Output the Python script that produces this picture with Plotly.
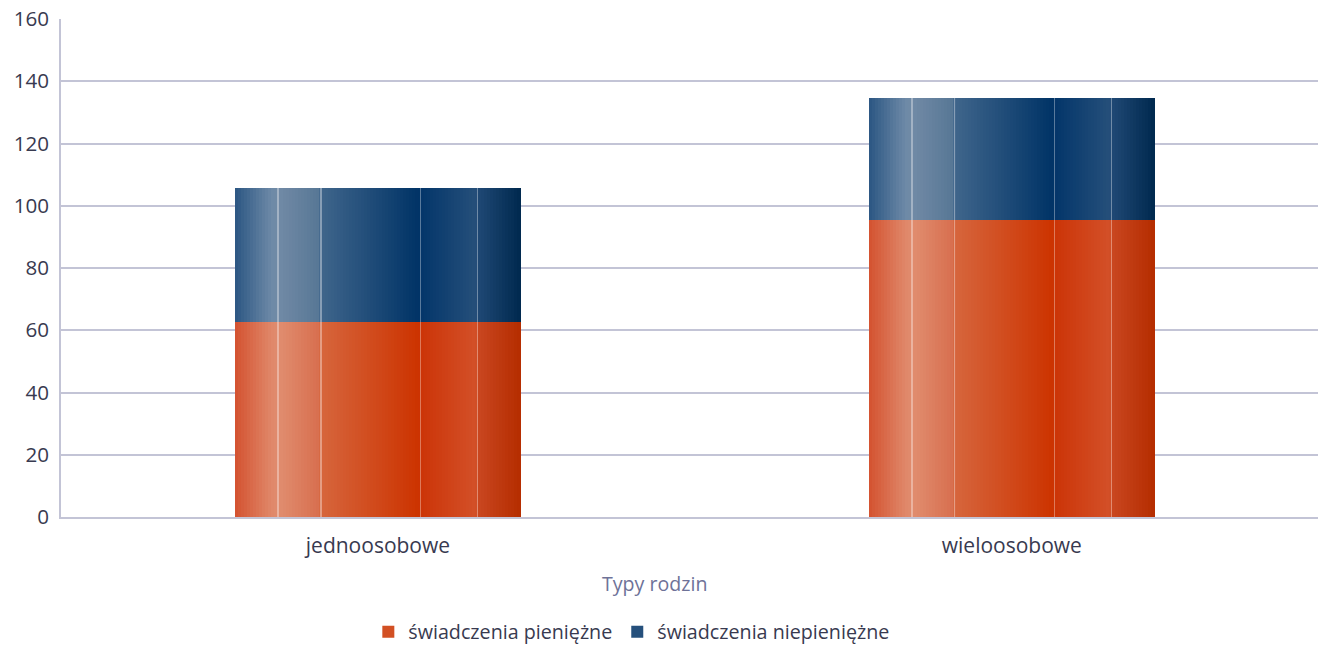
import plotly.graph_objects as go

categories = ["jednoosobowe", "wieloosobowe"]
pieniezne = [62.6, 95.4]
niepieniezne_total = [105.7, 134.7]
niepieniezne = [round(t - p, 1) for t, p in zip(niepieniezne_total, pieniezne)]
series_names = ["świadczenia pieniężne", "świadczenia niepieniężne"]
y_ticks = [0, 20, 40, 60, 80, 100, 120, 140, 160]

FONT = "Open Sans"
TXT = "#383a50"
GRID = "#c3c4d6"

orange_stops = [(0.0, "#d35230"), (0.13, "#e0886a"), (0.16, "#e08c6e"), (0.29, "#d87050"),
                (0.305, "#d6653c"), (0.645, "#cc3300"), (0.655, "#cc3508"), (0.845, "#d35028"),
                (0.855, "#c94620"), (1.0, "#b52d00")]
blue_stops = [(0.0, "#2b5683"), (0.13, "#6e8aa7"), (0.16, "#7089a5"), (0.29, "#587896"),
              (0.305, "#3f658b"), (0.645, "#003366"), (0.655, "#04366a"), (0.845, "#254f7a"),
              (0.855, "#1f4874"), (1.0, "#00294f")]


def hex2rgb(h):
    h = h.lstrip("#")
    return tuple(int(h[i:i + 2], 16) for i in (0, 2, 4))


def grad(stops, t):
    for (t0, c0), (t1, c1) in zip(stops[:-1], stops[1:]):
        if t0 <= t <= t1:
            f = 0 if t1 == t0 else (t - t0) / (t1 - t0)
            a, b = hex2rgb(c0), hex2rgb(c1)
            return "rgb(%d,%d,%d)" % tuple(round(a[i] + (b[i] - a[i]) * f) for i in range(3))
    return stops[-1][1]


W = 0.45
N = 95
step = W / N
fig = go.Figure()

for vals, base, stops, name, leg_t in [
    (pieniezne, None, orange_stops, series_names[0], 0.45),
    (niepieniezne, pieniezne, blue_stops, series_names[1], 0.45),
]:
    leg_idx = int(leg_t * N)
    for i in range(N):
        t = (i + 0.5) / N
        fig.add_trace(go.Bar(
            x=categories, y=vals, base=base,
            width=step * 1.35, offset=-W / 2 + i * step - (0.2 * step if i > 0 else 0),
            marker=dict(color=grad(stops, t), line=dict(width=0)),
            name=name, legendgroup=name, showlegend=(i == leg_idx),
            hoverinfo="skip",
        ))
    for lt in [0.15, 0.30, 0.65, 0.85]:
        fig.add_trace(go.Bar(
            x=categories, y=vals, base=base,
            width=0.0022, offset=-W / 2 + lt * W - 0.0011,
            marker=dict(color="rgba(255,255,255,0.35)", line=dict(width=0)),
            showlegend=False, hoverinfo="skip",
        ))

fig.update_layout(
    width=1318, height=647,
    margin=dict(l=61, r=0, t=19, b=130),
    paper_bgcolor="white", plot_bgcolor="white",
    barmode="overlay", bargap=0,
    font=dict(family=FONT, size=19.6, color=TXT),
    xaxis=dict(
        range=[-0.5, 1.483], showgrid=False, showline=True, linecolor=GRID, linewidth=1.5,
        ticks="", tickfont=dict(size=21, color=TXT), ticklabelstandoff=9, automargin=False,
    ),
    yaxis=dict(
        range=[0, 160], tickvals=y_ticks, showgrid=True, gridcolor=GRID, gridwidth=1.5,
        showline=True, linecolor=GRID, linewidth=1.5, zeroline=False,
        tickfont=dict(size=20.6, color=TXT), ticklabelstandoff=6, automargin=False,
    ),
    legend=dict(
        orientation="h", xref="container", yref="container",
        x=0.479, xanchor="center", y=0.0232, yanchor="middle",
        font=dict(size=19.7, color=TXT), traceorder="normal", itemwidth=30,
    ),
    annotations=[dict(
        text="Typy rodzin", xref="paper", yref="paper", x=0.472, y=-0.1326,
        xanchor="center", yanchor="middle", showarrow=False,
        font=dict(size=19.6, color="#6e7298", family=FONT),
    )],
)

fig.write_html(
    "out.html",
    config={"displayModeBar": False},
    post_script="document.body.style.margin='0';document.body.style.overflow='hidden';",
)
